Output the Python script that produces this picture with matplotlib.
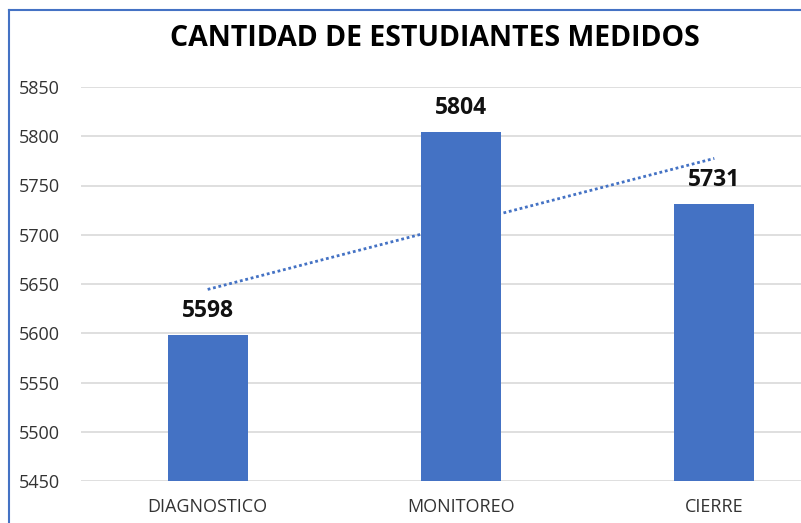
import matplotlib.pyplot as plt
import numpy as np
from matplotlib.lines import Line2D

categories = ['DIAGNOSTICO', 'MONITOREO', 'CIERRE']
values = [5598, 5804, 5731]
yticks = [5450, 5500, 5550, 5600, 5650, 5700, 5750, 5800, 5850]

blue = '#4472C4'
plt.rcParams['font.family'] = ['Open Sans', 'DejaVu Sans']

fig = plt.figure(figsize=(8.01, 5.23), dpi=100)
ax = fig.add_axes([81 / 801, 1 - 481 / 523, 760 / 801, (481 - 87) / 523])

x = np.arange(len(categories))
ax.bar(x, values, width=0.315, color=blue, zorder=3)

# linear trend line
coef = np.polyfit(x, values, 1)
ax.plot(x[[0, -1]], np.polyval(coef, x[[0, -1]]), linestyle=(0, (1, 1)),
        color=blue, lw=2, zorder=4)

for xi, v in zip(x, values):
    ax.text(xi, v + 12, str(v), ha='center', va='bottom',
            fontsize=16.5, fontweight='bold', color='#111111', zorder=5)

ax.set_ylim(5450, 5850)
ax.set_xlim(-0.5, 2.5)
ax.set_yticks(yticks)
ax.set_xticks(x)
ax.set_xticklabels(categories)
ax.yaxis.grid(True, color='#d9d9d9', lw=1.2, zorder=0)
ax.tick_params(axis='both', length=0, labelsize=13, colors='#333333')
ax.tick_params(axis='y', pad=15)
ax.tick_params(axis='x', pad=12)
for s in ax.spines.values():
    s.set_visible(False)

fig.text(435 / 801, 1 - 38 / 523, 'CANTIDAD DE ESTUDIANTES MEDIDOS',
         ha='center', va='center', fontsize=20.5, fontweight='bold')

# chart frame (left and top edges visible)
fig.add_artist(Line2D([9 / 801, 9 / 801], [0, 1 - 10 / 523], color=blue, lw=1.5))
fig.add_artist(Line2D([9 / 801, 1], [1 - 10 / 523, 1 - 10 / 523], color=blue, lw=1.5))

fig.savefig('out.png', dpi=100)
